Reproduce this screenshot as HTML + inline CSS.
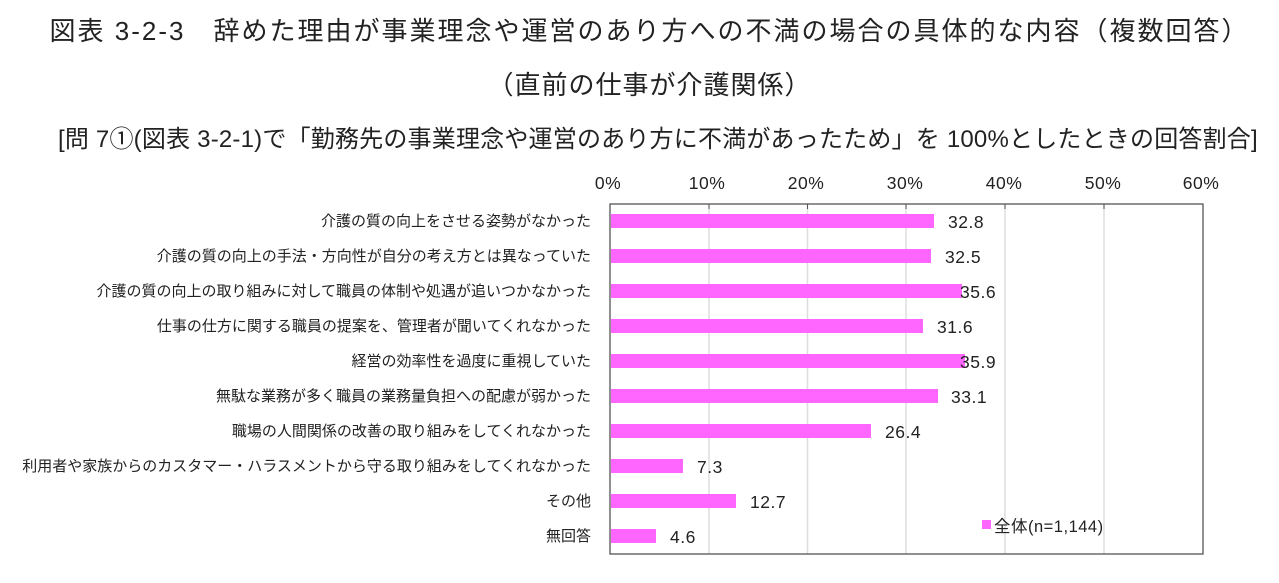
<!DOCTYPE html>
<html><head><meta charset="utf-8"><style>
body{margin:0;width:1279px;height:583px;background:#fff;overflow:hidden;font-family:"Liberation Sans","Noto Sans CJK JP",sans-serif;color:#222;position:relative}
.t{position:absolute;white-space:nowrap}
</style></head><body>
<div class="t" style="left:0;width:1299px;text-align:center;top:11px;font-size:26px;letter-spacing:2px">図表 3-2-3　辞めた理由が事業理念や運営のあり方への不満の場合の具体的な内容（複数回答）</div>
<div class="t" style="left:0;width:1299px;text-align:center;top:65px;font-size:26px;letter-spacing:1px">（直前の仕事が介護関係）</div>
<div class="t" style="left:58px;top:119px;font-size:24px;letter-spacing:0.2px">[問 7①(図表 3-2-1)で「勤務先の事業理念や運営のあり方に不満があったため」を 100%としたときの回答割合]</div>
<svg width="1279" height="583" style="position:absolute;left:0;top:0" font-family="Liberation Sans, Noto Sans CJK JP, sans-serif">
<g stroke="#ddd" stroke-width="1.5">
<line x1="709" y1="204" x2="709" y2="554"/><line x1="807.5" y1="204" x2="807.5" y2="554"/><line x1="906" y1="204" x2="906" y2="554"/><line x1="1005" y1="204" x2="1005" y2="554"/><line x1="1104" y1="204" x2="1104" y2="554"/>
</g>
<rect x="610" y="204" width="593" height="350" fill="none" stroke="#555" stroke-width="1.3"/>
<g stroke="#555"><line x1="709" y1="204" x2="709" y2="209"/><line x1="807.5" y1="204" x2="807.5" y2="209"/><line x1="906" y1="204" x2="906" y2="209"/><line x1="1005" y1="204" x2="1005" y2="209"/><line x1="1104" y1="204" x2="1104" y2="209"/></g>
<g font-size="17.5" fill="#222" text-anchor="middle" letter-spacing="0.5">
<text x="608" y="189">0%</text><text x="707" y="189">10%</text><text x="806" y="189">20%</text><text x="905" y="189">30%</text><text x="1004" y="189">40%</text><text x="1103" y="189">50%</text><text x="1201" y="189">60%</text>
</g>
<g fill="#ff66ff">
<rect x="611" y="214" width="323" height="14"/><rect x="611" y="249" width="320" height="14"/><rect x="611" y="284" width="351" height="14"/><rect x="611" y="319" width="312" height="14"/><rect x="611" y="354" width="354" height="14"/><rect x="611" y="389" width="327" height="14"/><rect x="611" y="424" width="260" height="14"/><rect x="611" y="459" width="72" height="14"/><rect x="611" y="494" width="125" height="14"/><rect x="611" y="529" width="45" height="14"/>
<rect x="982" y="520" width="9" height="9"/>
</g>
<g font-size="17.5" fill="#222" letter-spacing="0.5">
<text x="948" y="228">32.8</text><text x="945" y="263">32.5</text><text x="960" y="298">35.6</text><text x="937" y="333">31.6</text><text x="960" y="368">35.9</text><text x="951" y="403">33.1</text><text x="885" y="438">26.4</text><text x="697" y="473">7.3</text><text x="750" y="508">12.7</text><text x="670" y="543">4.6</text>
<text x="994" y="532" font-size="16.5">全体(n=1,144)</text>
</g>
<g font-size="15" fill="#222" text-anchor="end">
<text x="591" y="226">介護の質の向上をさせる姿勢がなかった</text>
<text x="591" y="261">介護の質の向上の手法・方向性が自分の考え方とは異なっていた</text>
<text x="591" y="296">介護の質の向上の取り組みに対して職員の体制や処遇が追いつかなかった</text>
<text x="591" y="331">仕事の仕方に関する職員の提案を、管理者が聞いてくれなかった</text>
<text x="591" y="366">経営の効率性を過度に重視していた</text>
<text x="591" y="401">無駄な業務が多く職員の業務量負担への配慮が弱かった</text>
<text x="591" y="436">職場の人間関係の改善の取り組みをしてくれなかった</text>
<text x="591" y="471">利用者や家族からのカスタマー・ハラスメントから守る取り組みをしてくれなかった</text>
<text x="591" y="506">その他</text>
<text x="591" y="541">無回答</text>
</g>
</svg>
</body></html>
